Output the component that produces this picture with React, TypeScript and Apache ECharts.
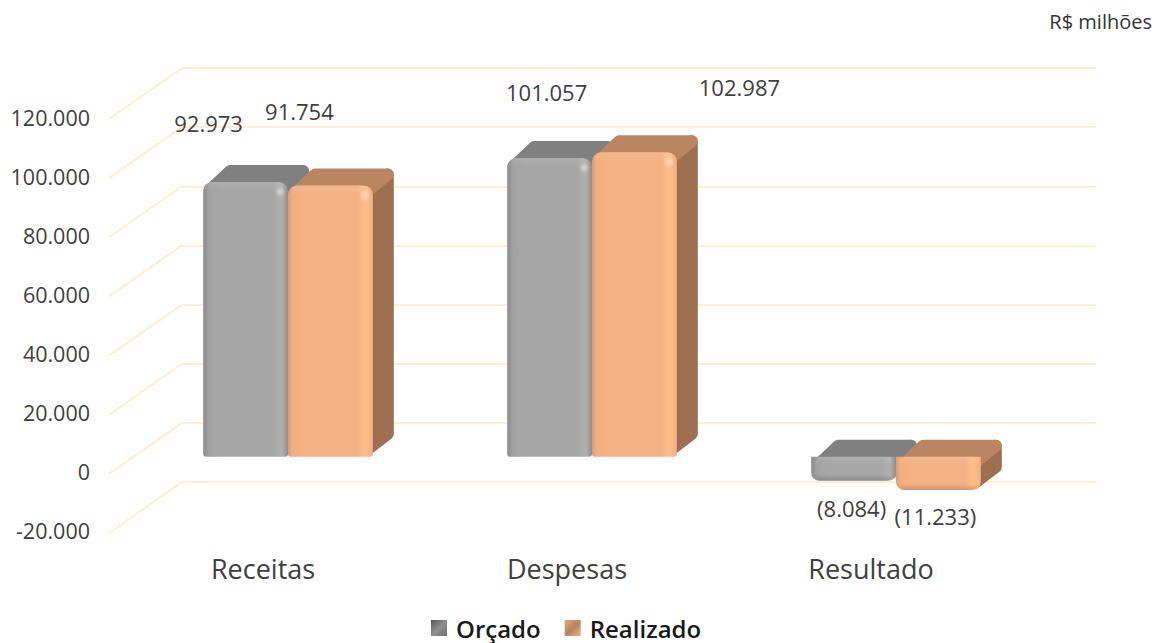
import React, { useEffect, useRef } from "react";
import * as echarts from "echarts";

const categories = ["Receitas", "Despesas", "Resultado"];
const orcado = [92973, 101057, -8084];
const realizado = [91754, 102987, -11233];
const rules = [-20000, 0, 20000, 40000, 60000, 80000, 100000, 120000];

// label nudges relative to each bar's top (or bottom when negative)
const orcadoNudge = [[-37, -59], [-3, -66], [-2, 27]];
const realizadoNudge = [[-31, -75], [105, -65], [-3, 26]];

const FONT = '"Open Sans", sans-serif';
const DEPTH_X = 21;
const DEPTH_Y = 17;
const WALL_DX = 73;
const WALL_DY = 51;
const RULE = "#ffeecf";

const fmt = (v: number) => {
  const s = String(Math.abs(v)).replace(/\B(?=(\d{3})+$)/g, ".");
  return v < 0 ? "-" + s : s;
};
const fmtLabel = (v: number) => (v < 0 ? "(" + fmt(-v) + ")" : fmt(v));

const H = (stops: [number, string][]) =>
  new echarts.graphic.LinearGradient(0, 0, 1, 0, stops.map(([offset, color]) => ({ offset, color })));
const V = (stops: [number, string][]) =>
  new echarts.graphic.LinearGradient(0, 0, 0, 1, stops.map(([offset, color]) => ({ offset, color })));

const grey = {
  front: [[0, "#8c8c8c"], [0.07, "#a2a2a2"], [0.2, "#a6a6a6"], [0.82, "#a6a6a6"], [0.93, "#b0b0b0"], [1, "#8e8e8e"]] as [number, string][],
  top: "#808080",
  side: "#8b8b8b",
};
const peach = {
  front: [[0, "#dd9c70"], [0.05, "#f2ae80"], [0.2, "#f4b183"], [0.8, "#f4b183"], [0.92, "#fdbd8b"], [1, "#f3b082"]] as [number, string][],
  top: "#b98661",
  side: "#9c7051",
};

function bars(values: number[], nudge: number[][], pal: typeof grey, dir: number) {
  return (params: any, api: any) => {
    const i = api.value(0);
    const v = api.value(1);
    const center = api.coord([i, 0])[0];
    const w = api.size([1, 0])[0] * 0.279;
    const y0 = api.coord([i, 0])[1];
    const yv = api.coord([i, v])[1];
    const L = dir < 0 ? center - w : center;
    const R = L + w;
    const top = Math.min(y0, yv);
    const bottom = Math.max(y0, yv);
    const r = 6;
    const facet = (points: number[][], fill: string) => ({
      type: "polygon",
      shape: { points },
      style: { fill, stroke: fill, lineWidth: r * 2, lineJoin: "round" },
    });
    const dx = DEPTH_X;
    const dy = DEPTH_Y;
    const children: any[] = [
      facet(
        [[R - r, bottom - r - 1], [R + dx - r, bottom - dy - r], [R + dx - r, top - dy + r], [R - r, top + r]],
        pal.side
      ),
      facet(
        [[L + r + 3, top + r], [L + dx + r, top - dy + r], [R + dx - r, top - dy + r], [R - r, top + r]],
        pal.top
      ),
      {
        type: "rect",
        shape: { x: L, y: top, width: w, height: bottom - top, r: v < 0 ? [0, 0, 8, 8] : [9, 9, 3, 3] },
        style: { fill: H(pal.front) },
      },
      {
        type: "rect",
        shape: { x: L + 3, y: top, width: w - 6, height: 9, r: [8, 8, 0, 0] },
        style: { fill: V([[0, "rgba(255,255,255,0.10)"], [1, "rgba(255,255,255,0)"]]) },
      },
    ];
    if (v > 0) {
      children.push({
        type: "circle",
        shape: { cx: R - 8, cy: top + 10, r: 6 },
        style: {
          fill: new echarts.graphic.RadialGradient(0.5, 0.5, 0.5, [
            { offset: 0, color: "rgba(255,255,255,0.5)" },
            { offset: 1, color: "rgba(255,255,255,0)" },
          ]),
        },
      });
    } else {
      children.push({
        type: "rect",
        shape: { x: L + 3, y: bottom - 6, width: w - 6, height: 6, r: [0, 0, 6, 6] },
        style: { fill: V([[0, "rgba(0,0,0,0)"], [1, "rgba(0,0,0,0.16)"]]) },
      });
    }
    const n = nudge[params.dataIndex];
    const anchor = v < 0 ? bottom : top;
    children.push({
      type: "text",
      x: (L + R) / 2 + n[0],
      y: anchor + n[1],
      style: {
        text: fmtLabel(values[params.dataIndex]),
        fill: "#404040",
        font: `22px ${FONT}`,
        textAlign: "center",
        textVerticalAlign: "middle",
        verticalAlign: "middle",
      },
    });
    return { type: "group", children };
  };
}

function wallDiagonals(params: any, api: any) {
  const y = api.coord([0, api.value(0)])[1];
  const x = params.coordSys.x;
  return {
    type: "line",
    shape: { x1: x, y1: y, x2: x - WALL_DX, y2: y + WALL_DY },
    style: { stroke: RULE, lineWidth: 2 },
    silent: true,
  };
}

export default function App() {
  const ref = useRef<HTMLDivElement>(null);
  useEffect(() => {
    const chart = echarts.init(ref.current!, undefined, { renderer: "svg" });
    const hiddenX = { type: "category", data: categories, show: false };
    chart.setOption({
      animation: false,
      backgroundColor: "#ffffff",
      title: {
        text: "R$ milhões",
        right: 4,
        top: 11,
        padding: 0,
        textStyle: { fontFamily: FONT, fontSize: 20, fontWeight: "normal", color: "#333333" },
      },
      legend: {
        left: 431,
        top: 616,
        padding: 0,
        itemWidth: 16,
        itemHeight: 16,
        itemGap: 24,
        textStyle: { fontFamily: FONT, fontSize: 24, color: "#1a1a1a", fontWeight: 600, padding: [0, 0, 0, 4] },
        data: [
          {
            name: "Orçado",
            icon: "rect",
            itemStyle: {
              color: new echarts.graphic.LinearGradient(0, 0, 1, 1, [
                { offset: 0, color: "#555555" },
                { offset: 0.5, color: "#8f8f8f" },
                { offset: 1, color: "#6f6f6f" },
              ]),
            },
          },
          {
            name: "Realizado",
            icon: "rect",
            itemStyle: {
              color: new echarts.graphic.LinearGradient(0, 0, 1, 1, [
                { offset: 0, color: "#e9ab7e" },
                { offset: 0.5, color: "#b8835d" },
                { offset: 1, color: "#f0b084" },
              ]),
            },
          },
        ],
      },
      grid: [
        { left: 182, top: 68, width: 914, height: 414 },
        { left: 111, top: 117, width: 912, height: 413 },
        { left: 136, top: 102, width: 912, height: 414 },
      ],
      xAxis: [
        { ...hiddenX, gridIndex: 0 },
        {
          type: "category",
          gridIndex: 1,
          data: categories,
          axisLine: { show: false, onZero: false },
          axisTick: { show: false },
          axisLabel: { margin: 25, fontFamily: FONT, fontSize: 27, color: "#404040" },
        },
        { ...hiddenX, gridIndex: 2 },
      ],
      yAxis: [
        {
          type: "value",
          gridIndex: 0,
          min: -20000,
          max: 120000,
          interval: 20000,
          axisLabel: { show: false },
          axisLine: { show: false },
          axisTick: { show: false },
          splitLine: { show: true, lineStyle: { color: RULE, width: 2 } },
        },
        {
          type: "value",
          gridIndex: 1,
          min: -20000,
          max: 120000,
          interval: 20000,
          axisLine: { show: false },
          axisTick: { show: false },
          splitLine: { show: false },
          axisLabel: { margin: 21, fontFamily: FONT, fontSize: 21.5, color: "#404040", formatter: (v: number) => fmt(v) },
        },
        { type: "value", gridIndex: 2, min: -20000, max: 120000, interval: 20000, show: false },
      ],
      series: [
        {
          type: "custom",
          name: "wall",
          xAxisIndex: 0,
          yAxisIndex: 0,
          silent: true,
          clip: false,
          data: rules.map((v) => [v]),
          encode: { y: 0 },
          renderItem: wallDiagonals,
        },
        {
          type: "custom",
          name: "Orçado",
          xAxisIndex: 2,
          yAxisIndex: 2,
          clip: false,
          itemStyle: { color: "#a6a6a6" },
          data: orcado.map((v, i) => [i, v]),
          encode: { x: 0, y: 1 },
          renderItem: bars(orcado, orcadoNudge, grey, -1),
        },
        {
          type: "custom",
          name: "Realizado",
          xAxisIndex: 2,
          yAxisIndex: 2,
          clip: false,
          itemStyle: { color: "#f4b183" },
          data: realizado.map((v, i) => [i, v]),
          encode: { x: 0, y: 1 },
          renderItem: bars(realizado, realizadoNudge, peach, 1),
        },
      ],
    });
    return () => chart.dispose();
  }, []);
  return <div ref={ref} style={{ position: "fixed", left: 0, top: 0, width: 1156, height: 643 }} />;
}
